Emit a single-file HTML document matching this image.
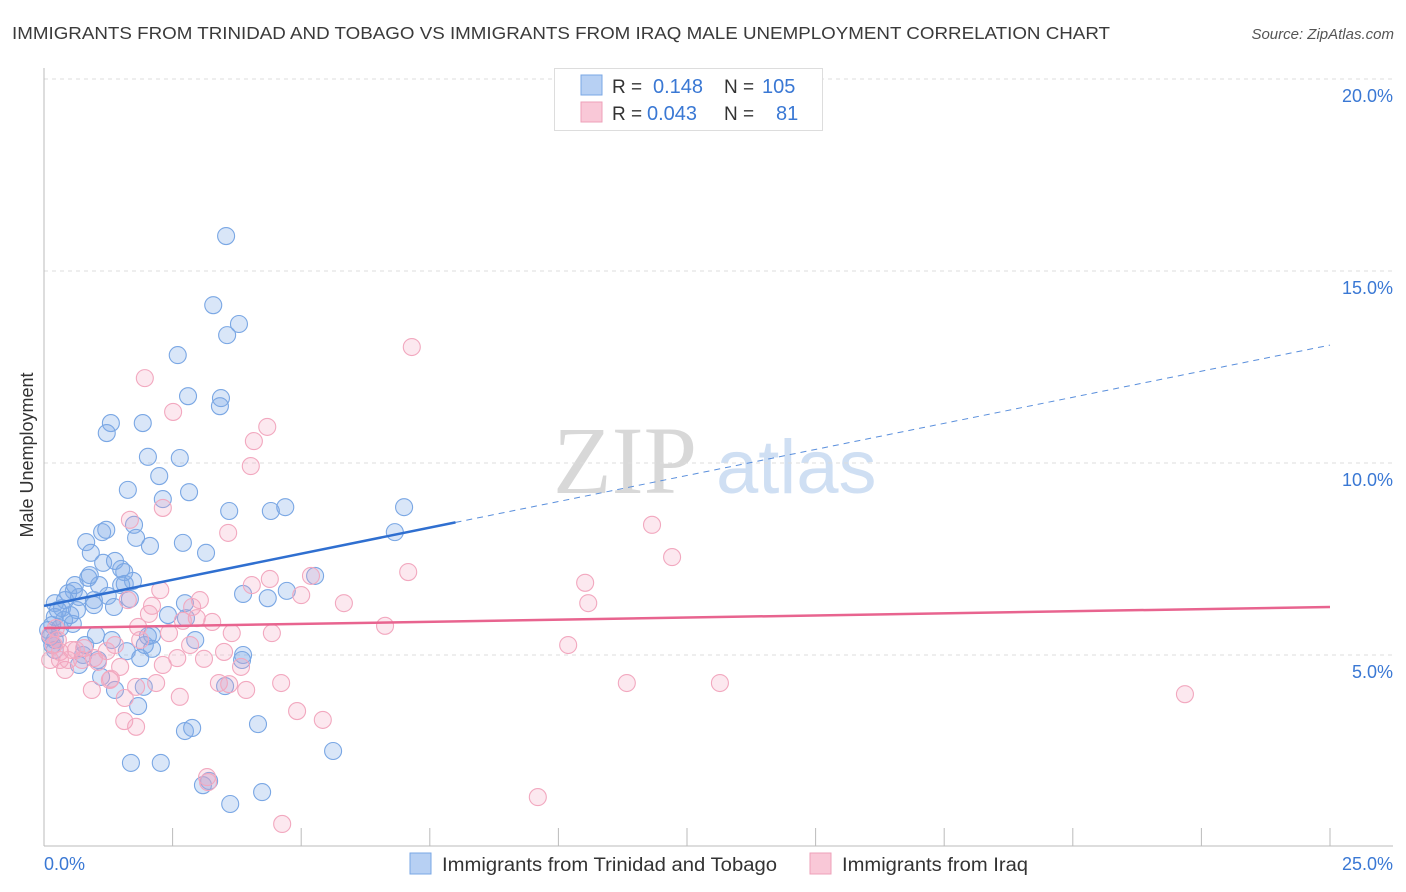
<!DOCTYPE html>
<html><head><meta charset="utf-8">
<style>
body{margin:0;background:#fff;font-family:"Liberation Sans",sans-serif;}
svg{display:block}
</style></head>
<body>
<svg id="chart" width="1406" height="892" xmlns="http://www.w3.org/2000/svg">
<text x="12" y="39" font-size="17.5" fill="#3a3a3a" textLength="1098" lengthAdjust="spacingAndGlyphs">IMMIGRANTS FROM TRINIDAD AND TOBAGO VS IMMIGRANTS FROM IRAQ MALE UNEMPLOYMENT CORRELATION CHART</text>
<text x="1394" y="39" font-size="15" fill="#555" font-style="italic" text-anchor="end">Source: ZipAtlas.com</text>
<g>
<text x="553" y="493" font-size="96" font-family="Liberation Serif,serif" fill="#d8d8d8">ZIP</text>
<text x="716" y="493" font-size="76" fill="#cfdff3">atlas</text>
</g>
<g id="grid"></g>
<g id="axes"></g>
<g id="pts"></g>
<g id="trends"></g>
<text transform="translate(33,455) rotate(-90)" font-size="18" fill="#333" text-anchor="middle">Male Unemployment</text>
<g>
<rect x="554.5" y="68.5" width="268" height="62" fill="#fff" stroke="#ddd"/>
<rect x="581" y="75" width="21" height="20" fill="#b7d0f3" stroke="#7aa7e4"/>
<rect x="581" y="102" width="21" height="20" fill="#f9c8d7" stroke="#eea0b9"/>
<text x="612" y="93" font-size="19" fill="#333">R =</text><text x="653" y="93" font-size="20" fill="#3a78d4">0.148</text>
<text x="724" y="93" font-size="19" fill="#333">N =</text><text x="762" y="93" font-size="20" fill="#3a78d4">105</text>
<text x="612" y="120" font-size="19" fill="#333">R =</text><text x="647" y="120" font-size="20" fill="#3a78d4">0.043</text>
<text x="724" y="120" font-size="19" fill="#333">N =</text><text x="776" y="120" font-size="20" fill="#3a78d4">81</text>
</g>
<g>
<g><rect x="410" y="853" width="21" height="21" fill="#b7d0f3" stroke="#7aa7e4"/><text x="442" y="871" font-size="19" fill="#333" textLength="335" lengthAdjust="spacingAndGlyphs">Immigrants from Trinidad and Tobago</text></g>
<g><rect x="810" y="853" width="21" height="21" fill="#f9c8d7" stroke="#eea0b9"/><text x="842" y="871" font-size="19" fill="#333" textLength="186" lengthAdjust="spacingAndGlyphs">Immigrants from Iraq</text></g>
</g>
</svg>
<script>
const blueX=[3.54,3.29,3.79,3.56,2.60,2.80,3.44,3.42,1.30,1.22,1.92,2.02,2.64,2.24,1.63,2.31,2.82,3.60,4.41,4.69,7.00,6.82,1.13,1.21,1.75,1.79,2.06,2.70,3.15,0.82,0.91,1.15,1.38,1.50,1.56,1.57,1.73,0.86,1.07,1.50,0.58,0.47,0.68,0.97,1.24,1.67,3.87,4.35,4.72,5.27,0.21,0.35,0.64,0.97,1.36,0.21,0.39,0.56,0.16,0.08,0.12,0.16,0.21,2.41,2.76,2.94,1.01,2.02,2.10,1.61,1.87,3.87,3.85,0.76,1.05,0.68,1.11,1.38,1.94,3.52,1.83,2.74,2.88,4.16,5.62,1.69,2.27,3.09,3.21,3.62,4.24,0.21,0.31,0.51,0.80,1.96,2.74,2.10,1.32,0.89,0.41,0.60,0.27];
const blueY=[15.91,14.11,13.62,13.33,12.81,11.74,11.69,11.48,11.04,10.78,11.04,10.16,10.13,9.66,9.30,9.06,9.24,8.75,8.75,8.85,8.85,8.20,8.20,8.26,8.39,8.05,7.84,7.92,7.66,7.94,7.66,7.40,7.45,7.24,7.16,6.85,6.93,7.01,6.82,6.82,6.67,6.61,6.51,6.43,6.54,6.46,6.59,6.48,6.67,7.06,6.35,6.22,6.17,6.30,6.25,5.99,5.91,5.81,5.78,5.65,5.47,5.26,5.13,6.04,5.96,5.39,5.52,5.49,5.16,5.10,4.92,5.00,4.87,5.00,4.87,4.74,4.43,4.09,4.17,4.19,3.67,3.02,3.10,3.20,2.50,2.19,2.19,1.61,1.72,1.12,1.43,5.39,5.70,6.04,5.26,5.26,6.35,5.52,5.39,7.08,6.43,6.82,6.17];
const pinkX=[1.96,7.15,2.51,4.34,4.08,4.02,2.31,1.67,3.58,11.82,12.21,7.08,10.52,10.58,5.19,4.39,4.04,5.00,5.83,2.10,2.04,2.88,2.97,2.70,1.83,2.43,3.27,3.65,4.43,6.63,10.19,0.27,0.31,0.41,0.12,0.54,0.78,0.97,1.22,0.47,0.74,1.48,2.31,2.59,2.84,3.11,3.50,3.83,0.93,1.30,1.57,1.79,2.18,2.64,3.40,3.60,3.93,4.61,4.92,5.42,1.56,1.79,11.33,13.14,22.18,3.17,3.19,4.63,9.60,0.23,0.12,0.19,1.05,1.38,1.63,2.26,0.31,0.62,1.87,3.03,1.28];
const pinkY=[12.21,13.02,11.33,10.94,10.57,9.92,8.83,8.52,8.18,8.39,7.55,7.16,6.88,6.35,7.06,6.98,6.82,6.56,6.35,6.28,6.07,6.25,5.96,5.89,5.73,5.57,5.86,5.57,5.57,5.76,5.26,5.39,5.08,4.61,4.87,5.13,5.18,4.92,5.10,4.87,4.87,4.69,4.74,4.92,5.26,4.90,5.08,4.69,4.09,4.38,3.88,4.17,4.27,3.91,4.27,4.24,4.09,4.27,3.54,3.31,3.28,3.13,4.27,4.27,3.98,1.82,1.69,0.60,1.30,5.70,5.52,5.26,4.82,5.26,6.43,6.69,4.87,5.13,5.39,6.43,4.35];
const yTicks=[5,10,15,20];
const yTickLabels=["5.0%","10.0%","15.0%","20.0%"];
const xTickVals=[0,2.5,5,7.5,10,12.5,15,17.5,20,22.5,25];
const blueTrend=[6.28,13.07];
const pinkTrend=[5.70,6.25];

const NS="http://www.w3.org/2000/svg";
const X=v=>44+v/25*1286;
const Y=v=>847-v*38.4;
function mk(tag,attrs,parent){const e=document.createElementNS(NS,tag);for(const k in attrs)e.setAttribute(k,attrs[k]);parent.appendChild(e);return e;}
const grid=document.getElementById('grid'),axes=document.getElementById('axes'),pts=document.getElementById('pts'),tr=document.getElementById('trends');
yTicks.forEach((t,i)=>{
  const l=mk('line',{x1:44,x2:1393,y1:Y(t),y2:Y(t),stroke:'#ddd','stroke-dasharray':'4,4'},grid);
  
  
  const tx=mk('text',{x:1393,y:Y(t)+23,'font-size':18,fill:'#3a78d4','text-anchor':'end'},axes);
  tx.textContent=yTickLabels[i];
  
  
});
const ax=mk('line',{x1:44,x2:44,y1:68,y2:846,stroke:'#bbb'},axes);


const bx=mk('line',{x1:44,x2:1393,y1:846,y2:846,stroke:'#bbb'},axes);


xTickVals.forEach(v=>{
  const t=mk('line',{x1:X(v),x2:X(v),y1:828,y2:846,stroke:'#bbb'},axes);
  
  
});
const x0=mk('text',{x:44,y:870,'font-size':18,fill:'#3a78d4'},axes);x0.textContent='0.0%';


const x1=mk('text',{x:1393,y:870,'font-size':18,fill:'#3a78d4','text-anchor':'end'},axes);x1.textContent='25.0%';



blueX.forEach((v,i)=>{
  const c=mk('circle',{cx:X(v),cy:Y(blueY[i]),r:8.5,fill:'rgba(130,172,232,0.3)',stroke:'#7aa7e4','stroke-width':1.1},pts);
  
  
});
pinkX.forEach((v,i)=>{
  const c=mk('circle',{cx:X(v),cy:Y(pinkY[i]),r:8.5,fill:'rgba(245,165,190,0.25)',stroke:'#f2a8bf','stroke-width':1.1},pts);
  
  
});
const bt=(x)=>blueTrend[0]+(blueTrend[1]-blueTrend[0])*x/25;
const b1=mk('line',{x1:X(0),y1:Y(bt(0)),x2:X(8),y2:Y(bt(8)),stroke:'#2f6fd0','stroke-width':2.5},tr);


const b2=mk('line',{x1:X(8),y1:Y(bt(8)),x2:X(25),y2:Y(bt(25)),stroke:'#5a8fdc','stroke-width':1,'stroke-dasharray':'6,5'},tr);


const p1=mk('line',{x1:X(0),y1:Y(pinkTrend[0]),x2:X(25),y2:Y(pinkTrend[1]),stroke:'#e8648f','stroke-width':2.5},tr);


</script>
</body></html>
